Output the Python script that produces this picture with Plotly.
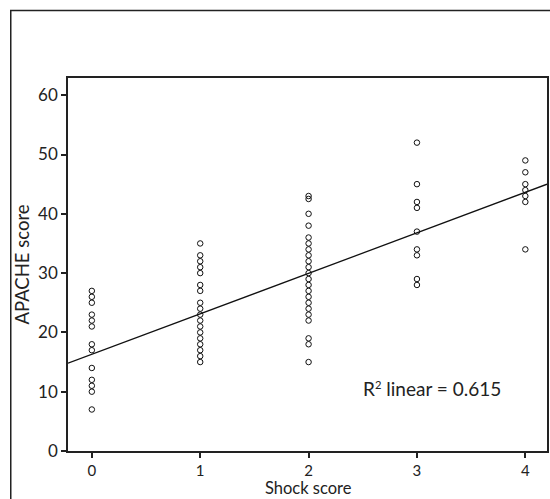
import plotly.graph_objects as go

# Data
shock_0 = [27, 26, 25, 23, 22, 21, 18, 17, 14, 12, 11, 10, 7]
shock_1 = [35, 33, 32, 31, 30, 28, 27, 25, 24, 23, 22, 21, 20, 19, 18, 17, 16, 15]
shock_2 = [43, 42.5, 40, 38, 36, 35, 34, 33, 32, 31, 30, 29, 28, 27, 26, 25, 24, 23, 22, 19, 18, 15]
shock_3 = [52, 45, 42, 41, 37, 34, 33, 29, 28]
shock_4 = [49, 47, 45, 44, 43, 42, 34]
groups = [shock_0, shock_1, shock_2, shock_3, shock_4]

fit_intercept = 16.3
fit_slope = 6.83
x_range = [-0.22, 4.2]
y_range = [0, 62.9]
x_ticks = [0, 1, 2, 3, 4]
y_ticks = [0, 10, 20, 30, 40, 50, 60]
x_title = "Shock score"
y_title = "APACHE score"
r2_label = "R<span style='font-size:16px'><sup>2</sup></span> linear = 0.615"

xs, ys = [], []
for shock, vals in enumerate(groups):
    xs += [shock] * len(vals)
    ys += vals

FONT = "Lato, 'Open Sans', sans-serif"
INK = "#222222"

fig = go.Figure()
fig.add_trace(go.Scatter(
    x=xs, y=ys, mode="markers",
    marker=dict(symbol="circle-open", size=5.5, color="#111111", line=dict(width=1)),
    showlegend=False, hoverinfo="x+y",
))
fig.add_trace(go.Scatter(
    x=x_range, y=[fit_intercept + fit_slope * v for v in x_range],
    mode="lines", line=dict(color="#111111", width=1.3),
    showlegend=False, hoverinfo="skip",
))

fig.add_annotation(
    x=2.48, y=10.6, xref="x", yref="y", text=r2_label, showarrow=False,
    xanchor="left", yanchor="middle", font=dict(family=FONT, size=19, color=INK),
)
# x-axis title
fig.add_annotation(
    x=0.503, y=-0.132, xref="paper", yref="paper", text=x_title, showarrow=False,
    xanchor="center", yanchor="bottom", font=dict(family=FONT, size=16.5, color=INK),
)

# outer frame
fig.add_shape(type="rect", xref="paper", yref="paper",
              x0=-0.1195, x1=1.2, y0=-0.3, y1=1.181,
              line=dict(color=INK, width=1.5), layer="below")

fig.update_layout(
    width=550, height=499,
    margin=dict(l=68, r=1, t=78, b=48),
    paper_bgcolor="white", plot_bgcolor="white",
    font=dict(family=FONT, size=17, color=INK),
    xaxis=dict(
        range=x_range, tickvals=x_ticks, ticktext=[str(v) for v in x_ticks],
        tickfont=dict(size=15),
        showgrid=False, zeroline=False, showline=True, linecolor=INK, linewidth=1.5,
        mirror=True, ticks="outside", ticklen=5, tickwidth=1.5, tickcolor=INK,
    ),
    yaxis=dict(
        range=y_range, tickvals=y_ticks,
        showgrid=False, zeroline=False, showline=True, linecolor=INK, linewidth=1.5,
        mirror=True, ticks="outside", ticklen=5, tickwidth=1.5, tickcolor=INK,
        title=dict(text=y_title, font=dict(size=18.5), standoff=4),
    ),
)

fig.write_html("out.html")
